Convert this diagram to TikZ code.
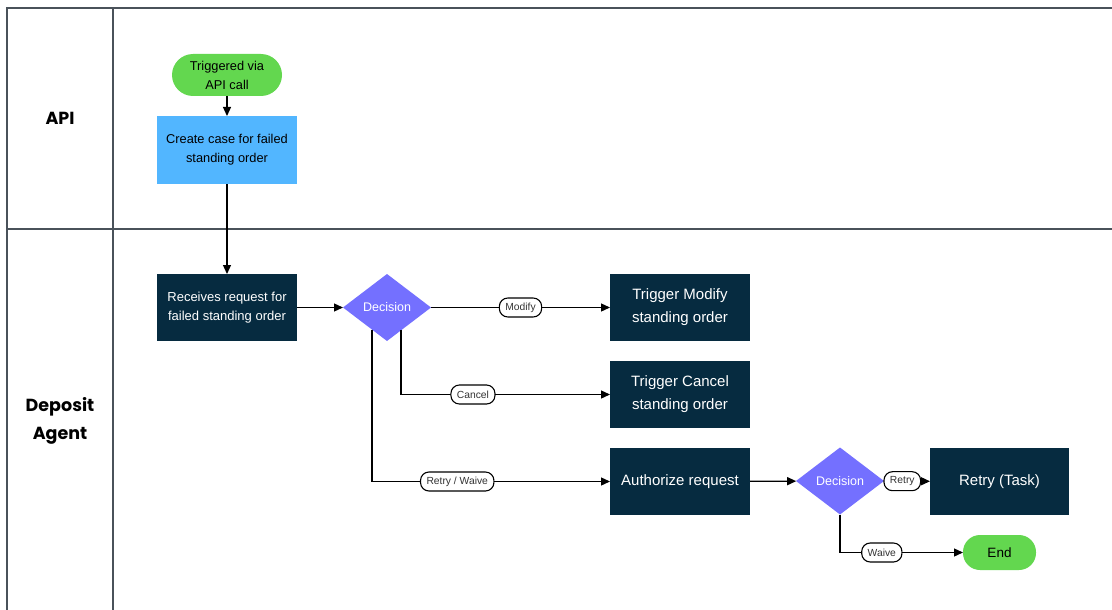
\documentclass[tikz,border=0pt]{standalone}
\usepackage{fontspec}
\setmainfont{Liberation Sans}
\newfontfamily\lanefont{Poppins}
\usetikzlibrary{shapes.geometric,arrows.meta,calc}

\definecolor{navy}{HTML}{062B40}
\definecolor{violetfill}{HTML}{7470FF}
\definecolor{greenfill}{HTML}{63D74F}
\definecolor{bluefill}{HTML}{52B6FF}
\definecolor{lanegray}{HTML}{4A525A}
\definecolor{tagtext}{HTML}{333333}

\tikzset{
  lane/.style={draw=lanegray, line width=1.3pt},
  lanelabel/.style={font=\lanefont\bfseries\fontsize{17.5}{28}\selectfont, align=center},
  task/.style={rectangle, fill=navy, text=white, minimum width=140pt, minimum height=67pt,
    inner sep=0pt, outer sep=0pt, align=center},
  smalltext/.style={font=\fontsize{13}{19}\selectfont},
  bigtext/.style={font=\fontsize{15}{23}\selectfont},
  casebox/.style={rectangle, fill=bluefill, text=black, minimum width=140pt, minimum height=68pt,
    inner sep=0pt, outer sep=0pt, align=center, font=\fontsize{12.8}{19}\selectfont},
  choice/.style={diamond, fill=violetfill, text=white, minimum width=88pt, minimum height=67pt,
    inner sep=0pt, outer sep=0pt, font=\fontsize{12.5}{14}\selectfont},
  terminal/.style={rectangle, rounded corners=17pt, fill=greenfill, text=black, inner sep=0pt,
    outer sep=0pt, align=center},
  tag/.style={rectangle, rounded corners=8.5pt, fill=white, draw=black, line width=1.1pt,
    text=tagtext, font=\fontsize{10.3}{12}\selectfont, inner xsep=6pt, inner ysep=0pt,
    minimum height=19pt},
  flow/.style={draw=black, line width=1.3pt, -{Triangle[length=9pt,width=8pt]}},
}

\begin{document}
\begin{tikzpicture}[x=1pt,y=-1pt]
\useasboundingbox (0,0) rectangle (1112,610);

% swimlane grid
\draw[lane] (1112,8) -- (7,8) -- (7,610);
\draw[lane] (113,8) -- (113,610);
\draw[lane] (7,229) -- (1112,229);

% lane titles
\node[lanelabel] (laneapi) at (60,118) {API};
\node[lanelabel] (lanedep) at (60,421) {Deposit\\Agent};

% API lane
\node[terminal, minimum width=110pt, minimum height=42pt, rounded corners=21pt,
      font=\fontsize{12.8}{19}\selectfont] (start) at (227,75) {Triggered via\\API call};
\node[casebox] (case) at (227,150) {Create case for failed\\standing order};

% Deposit agent lane
\node[task, smalltext] (recv) at (227,307.5) {Receives request for\\failed standing order};
\node[choice] (d1) at (387,307.5) {Decision};
\node[task, bigtext] (mod) at (680,307.5) {Trigger Modify\\standing order};
\node[task, bigtext] (can) at (680,394.5) {Trigger Cancel\\standing order};
\node[task, bigtext] (auth) at (680,481.5) {Authorize request};
\node[choice] (d2) at (840,481) {Decision};
\node[task, bigtext, minimum width=139pt] (retry) at (999.5,481.5) {Retry (Task)};
\node[terminal, minimum width=73pt, minimum height=35pt, font=\fontsize{13.5}{15}\selectfont]
      (end) at (999.5,552.5) {End};

% connectors
\draw[flow] (start) -- (case);
\draw[flow] (case) -- (recv);
\draw[flow] (recv) -- (d1);
\draw[flow] (d1) -- node[tag] {Modify} (mod);
\draw[flow] ($(d1.south)!0.32!(d1.east)$) |- node[tag, pos=0.672] {Cancel} (can);
\draw[flow] ($(d1.south)!0.34!(d1.west)$) |- node[tag, pos=0.679] {Retry / Waive} (auth);
\draw[flow] (auth) -- (d2);
\draw[flow] (d2) -- node[tag, pos=0.4] {Retry} (retry);
\draw[flow] (d2) |- node[tag, pos=0.67] {Waive} (end);
\end{tikzpicture}
\end{document}
